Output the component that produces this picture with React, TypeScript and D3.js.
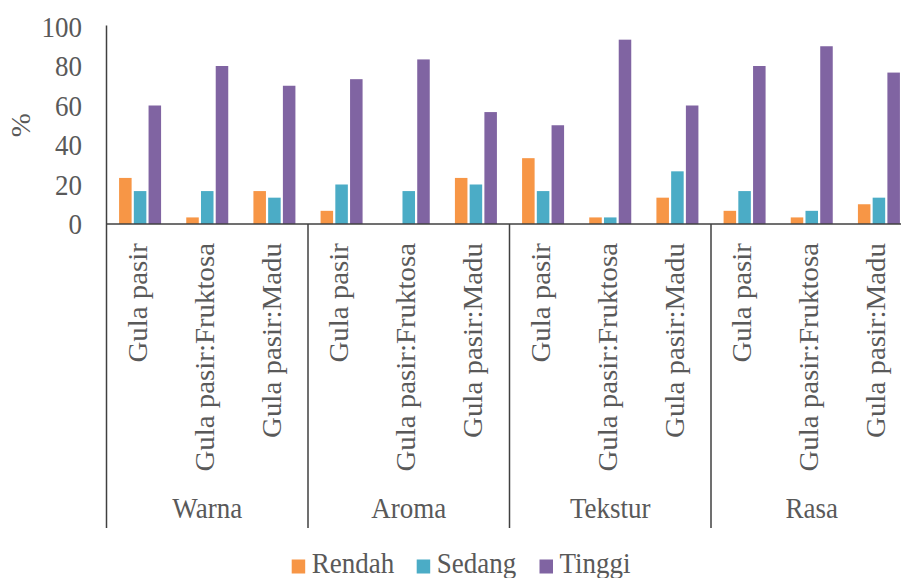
import React from 'react';
import * as d3 from 'd3';

// kategori & nilai (%)
const groups = ['Warna', 'Aroma', 'Tekstur', 'Rasa'];
const treatments = ['Gula pasir', 'Gula pasir:Fruktosa', 'Gula pasir:Madu'];
const seriesNames = ['Rendah', 'Sedang', 'Tinggi'];
const rendah = [23.33, 3.33, 16.67, 6.67, 0, 23.33, 33.33, 3.33, 13.33, 6.67, 3.33, 10];
const sedang = [16.67, 16.67, 13.33, 20, 16.67, 20, 16.67, 3.33, 26.67, 16.67, 6.67, 13.33];
const tinggi = [60, 80, 70, 73.33, 83.33, 56.67, 50, 93.33, 60, 80, 90, 76.67];
const yTicks = [0, 20, 40, 60, 80, 100];

const colors = ['#F79646', '#4BACC6', '#8064A2'];
const textColor = '#595959';
const lineColor = '#404040';
const font = '"Liberation Serif", "Times New Roman", serif';
const fs = 27;
const sy = 1.07; // text looks slightly stretched vertically

export default function App() {
  const left = 106.5;
  const right = 912.5;
  const baseY = 224;
  const bottomY = 528;

  const yScale = d3.scaleLinear().domain([0, 100]).range([baseY, 26.5]);
  const xGroup = d3.scaleBand<string>().domain(groups).range([left, right]);
  const xTreat = d3.scaleBand<string>().domain(treatments).range([0, xGroup.bandwidth()]);
  const xSeries = d3.scaleBand<string>().domain(seriesNames).range([-21, 21]).paddingInner(0.15);

  const seriesData = [rendah, sedang, tinggi];

  const bars: any[] = [];
  groups.forEach((g, gi) => {
    treatments.forEach((t, ti) => {
      const cx = xGroup(g)! + xTreat(t)! + xTreat.bandwidth() / 2;
      seriesNames.forEach((s, si) => {
        const v = seriesData[si][gi * treatments.length + ti];
        bars.push({ key: `${g}-${t}-${s}`, x: cx + xSeries(s)!, v, color: colors[si] });
      });
    });
  });

  const legendX = [291.7, 416.7, 539.5];

  React.useEffect(() => {
    document.body.style.margin = '0';
    document.body.style.overflow = 'hidden';
  }, []);

  return (
    <svg width={901} height={578} style={{ position: 'absolute', left: 0, top: 0, background: '#fff' }}
      fontFamily={font}>
      {/* bars */}
      {bars.map((b) => (
        <rect key={b.key} x={b.x} y={yScale(b.v)} width={xSeries.bandwidth()}
          height={baseY - yScale(b.v)} fill={b.color} />
      ))}

      {/* y axis + ticks */}
      <line x1={left} x2={left} y1={yScale(100) - 1} y2={bottomY} stroke={lineColor} strokeWidth={1.5} />
      {yTicks.map((t) => (
        <text key={t} transform={`translate(82, ${yScale(t)}) scale(1, ${sy})`} dy="0.35em"
          textAnchor="end" fontSize={fs} fill={textColor}>{t}</text>
      ))}
      <text transform={`translate(30, ${(yScale(0) + yScale(100)) / 2}) scale(1, ${sy}) rotate(-90)`}
        textAnchor="middle" fontSize={fs} fill={textColor}>%</text>

      {/* x axis baseline and group dividers */}
      <line x1={left} x2={right} y1={baseY} y2={baseY} stroke={lineColor} strokeWidth={1.5} />
      {groups.slice(1).map((g) => (
        <line key={g} x1={xGroup(g)} x2={xGroup(g)} y1={baseY} y2={bottomY} stroke={lineColor} strokeWidth={1.5} />
      ))}

      {/* treatment labels */}
      {groups.map((g) => treatments.map((t) => {
        const cx = xGroup(g)! + xTreat(t)! + xTreat.bandwidth() / 2;
        return (
          <text key={`${g}-${t}`} transform={`translate(${cx + 6.5}, 243) scale(1, ${sy}) rotate(-90)`}
            textAnchor="end" fontSize={fs} fill={textColor}>{t}</text>
        );
      }))}

      {/* group labels */}
      {groups.map((g) => (
        <text key={g} transform={`translate(${xGroup(g)! + xGroup.bandwidth() / 2}, 518) scale(1, ${sy})`}
          textAnchor="middle" fontSize={fs} fill={textColor}>{g}</text>
      ))}

      {/* legend */}
      {seriesNames.map((s, i) => (
        <g key={s}>
          <rect x={legendX[i]} y={559.5} width={13.5} height={14} fill={colors[i]} />
          <text transform={`translate(${legendX[i] + 20}, 573) scale(1, ${sy})`}
            fontSize={fs} fill={textColor}>{s}</text>
        </g>
      ))}
    </svg>
  );
}
